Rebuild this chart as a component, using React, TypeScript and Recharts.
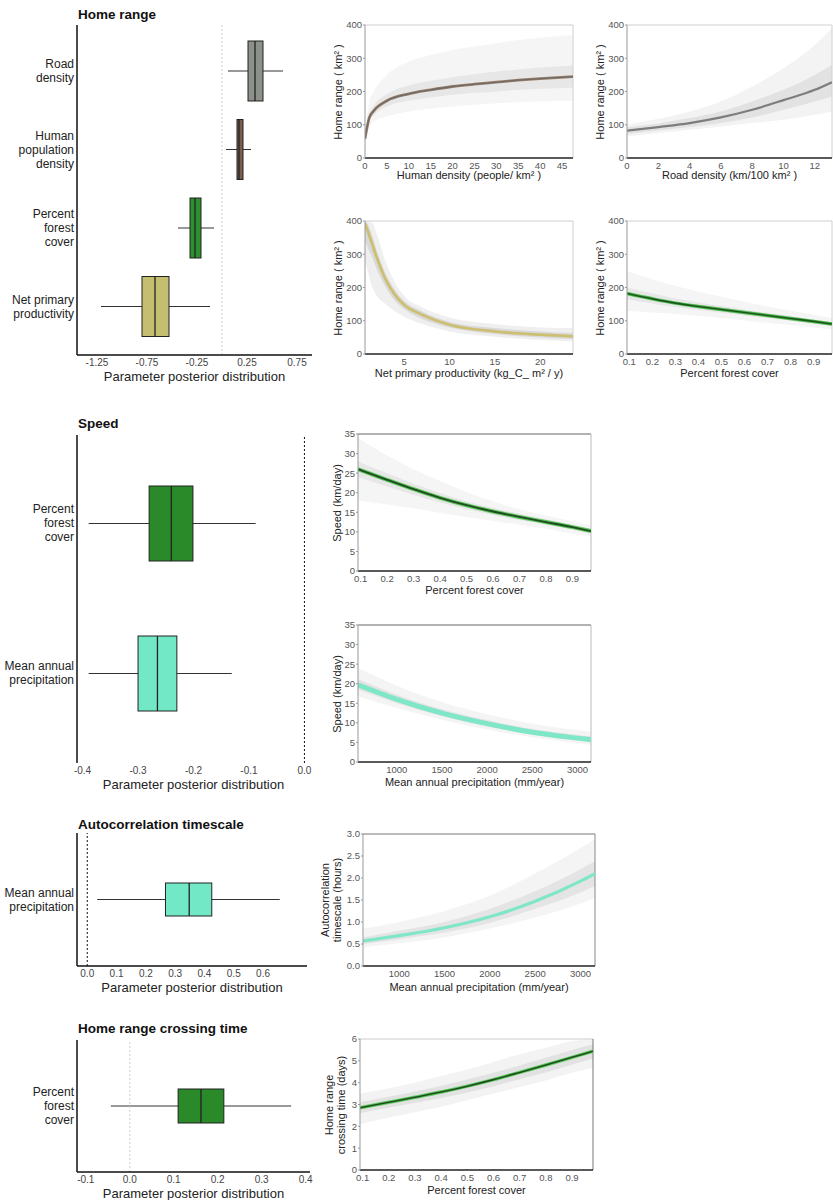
import React from 'react'
import { Area, Bar, BarChart, ComposedChart, Line, ReferenceLine, XAxis, YAxis } from 'recharts'

const FONT = '"Liberation Sans", Arial, Helvetica, sans-serif'

// ---------- parameter posteriors (box plots) ----------
const hrCats = ['Road\ndensity', 'Human\npopulation\ndensity', 'Percent\nforest\ncover', 'Net primary\nproductivity']
const hrLow = [0.06, 0.04, -0.44, -1.21]
const hrQ1 = [0.26, 0.15, -0.32, -0.8]
const hrMed = [0.33, 0.17, -0.27, -0.67]
const hrQ3 = [0.41, 0.21, -0.21, -0.53]
const hrHigh = [0.61, 0.29, -0.08, -0.12]
const hrFill = ['#8c918a', '#7a5f4e', '#2e8f2e', '#c5bd70']
const hrTicks = [-1.25, -0.75, -0.25, 0.25, 0.75]

const spCats = ['Percent\nforest\ncover', 'Mean annual\nprecipitation']
const spLow = [-0.389, -0.389]
const spQ1 = [-0.28, -0.3]
const spMed = [-0.24, -0.265]
const spQ3 = [-0.201, -0.23]
const spHigh = [-0.088, -0.131]
const spFill = ['#2a8a2a', '#72e8c6']
const spTicks = [-0.4, -0.3, -0.2, -0.1, 0]

const acCats = ['Mean annual\nprecipitation']
const acLow = [0.034]
const acQ1 = [0.267]
const acMed = [0.348]
const acQ3 = [0.425]
const acHigh = [0.657]
const acFill = ['#72e8c6']
const acTicks = [0, 0.1, 0.2, 0.3, 0.4, 0.5, 0.6]

const ctCats = ['Percent\nforest\ncover']
const ctLow = [-0.043]
const ctQ1 = [0.11]
const ctMed = [0.162]
const ctQ3 = [0.214]
const ctHigh = [0.367]
const ctFill = ['#2a8a2a']
const ctTicks = [-0.1, 0, 0.1, 0.2, 0.3, 0.4]

// ---------- fitted curves: mean + spread of posterior draws ----------
const humanX = [0, 1, 2, 5, 10, 15, 20, 25, 30, 35, 40, 47.5]
const humanMean = [58, 122, 142, 172, 193, 205, 215, 222, 228, 234, 239, 245]
const humanLo = [40, 95, 110, 125, 140, 148, 155, 160, 165, 168, 170, 172]
const humanHi = [80, 170, 200, 250, 290, 310, 325, 335, 345, 355, 362, 370]
const humanLo2 = [50, 110, 128, 155, 172, 182, 190, 196, 200, 205, 208, 212]
const humanHi2 = [65, 135, 158, 192, 218, 232, 243, 252, 260, 266, 272, 278]

const roadX = [0, 2, 4, 6, 8, 10, 12, 13.1]
const roadMean = [82, 93, 105, 122, 145, 174, 205, 228]
const roadLo = [65, 75, 85, 95, 105, 115, 130, 140]
const roadHi = [100, 118, 140, 170, 215, 270, 340, 390]
const roadLo2 = [72, 83, 93, 105, 122, 145, 170, 185]
const roadHi2 = [92, 104, 120, 140, 170, 205, 250, 280]

const nppX = [0.7, 1, 1.5, 2, 3, 4, 5, 7, 10, 15, 20, 23.6]
const nppMean = [393, 370, 330, 290, 222, 178, 148, 118, 88, 68, 58, 53]
const nppLo = [280, 250, 200, 175, 150, 128, 112, 90, 68, 52, 42, 38]
const nppHi = [400, 400, 395, 360, 275, 215, 175, 140, 110, 90, 80, 78]
const nppLo2 = [340, 320, 290, 255, 200, 160, 135, 105, 80, 60, 50, 45]
const nppHi2 = [400, 390, 355, 310, 240, 192, 160, 128, 97, 78, 68, 63]

const forestX = [0.09, 0.2, 0.3, 0.4, 0.5, 0.6, 0.7, 0.8, 0.9, 0.98]
const hrForestMean = [182, 166, 153, 143, 134, 125, 116, 107, 98, 90]
const hrForestLo = [130, 125, 120, 115, 108, 101, 94, 87, 80, 74]
const hrForestHi = [250, 225, 205, 188, 172, 157, 143, 130, 118, 108]
const hrForestLo2 = [165, 152, 141, 132, 124, 116, 108, 100, 92, 84]
const hrForestHi2 = [200, 182, 167, 155, 144, 134, 124, 114, 104, 96]

const spForestX = [0.09, 0.2, 0.3, 0.4, 0.5, 0.6, 0.7, 0.8, 0.9, 0.97]
const spForestMean = [26.0, 23.3, 20.9, 18.7, 16.8, 15.2, 13.8, 12.5, 11.2, 10.2]
const spForestLo = [18, 17, 16, 14.8, 13.8, 12.8, 11.8, 10.8, 9.6, 8.8]
const spForestHi = [34, 29.5, 26, 23, 20.2, 17.8, 15.8, 14.2, 12.7, 11.7]
const spForestLo2 = [24, 21.6, 19.5, 17.5, 15.8, 14.3, 13.0, 11.8, 10.6, 9.6]
const spForestHi2 = [28, 25, 22.3, 19.9, 17.8, 16.1, 14.6, 13.2, 11.8, 10.8]

const spPrecipX = [570, 1000, 1500, 2000, 2500, 3000, 3150]
const spPrecipMean = [19.7, 16.0, 12.5, 9.8, 7.6, 6.1, 5.7]
const spPrecipLo = [16.8, 13.8, 10.8, 8.3, 6.3, 4.8, 4.4]
const spPrecipHi = [24.0, 19.5, 15.3, 12.2, 9.8, 8.2, 7.8]
const spPrecipLo2 = [18.5, 15.0, 11.7, 9.1, 7.0, 5.5, 5.1]
const spPrecipHi2 = [21.2, 17.2, 13.5, 10.7, 8.4, 6.9, 6.5]

const acX = [600, 1000, 1500, 2000, 2500, 3000, 3160]
const acMean = [0.57, 0.69, 0.87, 1.12, 1.47, 1.93, 2.1]
const acLo = [0.42, 0.52, 0.65, 0.85, 1.1, 1.42, 1.55]
const acHi = [0.85, 1.0, 1.25, 1.6, 2.1, 2.68, 2.88]
const acLo2 = [0.5, 0.61, 0.76, 0.98, 1.3, 1.67, 1.82]
const acHi2 = [0.65, 0.8, 1.0, 1.3, 1.7, 2.2, 2.38]

const ctX = [0.09, 0.2, 0.3, 0.4, 0.5, 0.6, 0.7, 0.8, 0.9, 0.98]
const ctMean = [2.85, 3.1, 3.33, 3.57, 3.84, 4.14, 4.47, 4.81, 5.16, 5.44]
const ctLo = [2.1, 2.4, 2.65, 2.9, 3.2, 3.5, 3.8, 4.1, 4.45, 4.7]
const ctHi = [3.5, 3.75, 4.0, 4.3, 4.6, 4.95, 5.3, 5.6, 5.9, 6.0]
const ctLo2 = [2.6, 2.86, 3.08, 3.3, 3.55, 3.84, 4.16, 4.48, 4.83, 5.12]
const ctHi2 = [3.1, 3.36, 3.6, 3.85, 4.14, 4.45, 4.79, 5.14, 5.5, 5.76]

const f1 = (v: number) => v.toFixed(1)

const boxRows = (cats: string[], low: number[], q1: number[], med: number[], q3: number[], high: number[], fill: string[]) =>
  cats.map((name, i) => ({ name, low: low[i], q1: q1[i], med: med[i], q3: q3[i], high: high[i], fill: fill[i] }))

const curveRows = (xs: number[], mean: number[], lo: number[], hi: number[], lo2: number[], hi2: number[]) =>
  xs.map((x, i) => ({ x, mean: mean[i], band: [lo[i], hi[i]], core: [lo2[i], hi2[i]] }))

function BoxShape(props: any) {
  const { x, y, width, height, payload } = props
  const span = payload.high - payload.low
  const px = (v: number) => x + (width * (v - payload.low)) / span
  const cy = y + height / 2
  return (
    <g>
      <line x1={x} x2={x + width} y1={cy} y2={cy} stroke="#333" strokeWidth={1} />
      <rect x={px(payload.q1)} y={y} width={px(payload.q3) - px(payload.q1)} height={height} fill={payload.fill} stroke="#222" strokeWidth={1} />
      <line x1={px(payload.med)} x2={px(payload.med)} y1={y} y2={y + height} stroke="#222" strokeWidth={1.3} />
    </g>
  )
}

function CatTick({ x, y, payload }: any) {
  const lines = String(payload.value).split('\n')
  return (
    <text x={x} y={y} textAnchor="end" fontSize={12} fill="#222" fontFamily={FONT}>
      {lines.map((ln, i) => (
        <tspan key={i} x={x} dy={i === 0 ? -(lines.length - 1) * 7 + 4 : 14}>{ln}</tspan>
      ))}
    </text>
  )
}

function Title({ text, y }: { text: string; y: number }) {
  return (
    <div style={{ position: 'absolute', left: 78, top: y - 9, fontSize: 13.5, fontWeight: 'bold', color: '#111', lineHeight: '18px', whiteSpace: 'nowrap' }}>
      {text}
    </div>
  )
}

function XTitle({ text, x, y, size = 11 }: { text: string; x: number; y: number; size?: number }) {
  return (
    <div style={{ position: 'absolute', left: x, top: y, transform: 'translate(-50%, -50%)', fontSize: size, color: '#222', whiteSpace: 'nowrap', lineHeight: '14px' }}>
      {text}
    </div>
  )
}

function YTitle({ lines, x, y }: { lines: string[]; x: number; y: number }) {
  return (
    <div style={{ position: 'absolute', left: x, top: y, transform: 'translate(-50%, -50%) rotate(-90deg)', fontSize: 11, color: '#222', whiteSpace: 'nowrap', lineHeight: '12px', textAlign: 'center' }}>
      {lines.map((l, i) => <div key={i}>{l}</div>)}
    </div>
  )
}

interface BoxProps {
  title: string
  titleY: number
  t: number
  b: number
  r: number
  data: any[]
  domain: [number, number]
  ticks: number[]
  fmt?: (v: number) => string
  barSize: number
  pad: { top: number; bottom: number }
  zeroColor: string
  axisLine: boolean
}

function BoxPanel(p: BoxProps) {
  const lw = 77
  const topPad = 4
  const xh = 30
  const rightPad = 6
  return (
    <>
      <Title text={p.title} y={p.titleY} />
      <div style={{ position: 'absolute', left: 0, top: p.t - topPad }}>
        <BarChart layout="vertical" width={p.r + rightPad} height={topPad + (p.b - p.t) + xh} data={p.data}
          margin={{ top: topPad, right: rightPad, left: 0, bottom: 0 }} barSize={p.barSize}>
          <XAxis type="number" domain={p.domain} ticks={p.ticks} allowDataOverflow interval={0} tickFormatter={p.fmt}
            axisLine={p.axisLine ? { stroke: '#111', strokeWidth: 1.5 } : false} tickLine={false} tickSize={2} tickMargin={2} height={xh}
            tick={{ fontSize: 10, fill: '#444', fontFamily: FONT }} />
          <YAxis type="category" dataKey="name" width={lw} axisLine={{ stroke: '#111', strokeWidth: 1.5 }} tickLine={false}
            tickSize={0} tickMargin={3} padding={p.pad} interval={0} tick={(props: any) => <CatTick {...props} />} />
          <ReferenceLine x={0} stroke={p.zeroColor} strokeDasharray="2 2" />
          <Bar dataKey={(d: any) => [d.low, d.high]} shape={(props: any) => <BoxShape {...props} />} isAnimationActive={false} />
        </BarChart>
      </div>
      <XTitle text="Parameter posterior distribution" x={(77 + p.r) / 2} y={p.b + 22} size={13} />
    </>
  )
}

interface CurveProps {
  l: number
  t: number
  r: number
  b: number
  data: any[]
  xDomain: [number, number]
  xTicks: number[]
  xFmt?: (v: number) => string
  yDomain: [number, number]
  yTicks: number[]
  yFmt?: (v: number) => string
  xLabel: string
  xLabelDy: number
  yLabel: string[]
  yLabelX: number
  strokes: { color: string; width: number }[]
  frameTop: string
  frameRight: string
  shade: number
}

function CurvePanel(p: CurveProps) {
  const yw = 52
  const topPad = 6
  const xh = 30
  const rightPad = p.r >= 830 ? 1 : 3
  return (
    <>
      <div style={{ position: 'absolute', left: p.l - yw, top: p.t - topPad }}>
        <ComposedChart width={yw + (p.r - p.l) + rightPad} height={topPad + (p.b - p.t) + xh} data={p.data}
          margin={{ top: topPad, right: rightPad, left: 0, bottom: 0 }}>
          <XAxis type="number" dataKey="x" domain={p.xDomain} ticks={p.xTicks} allowDataOverflow interval={0} tickFormatter={p.xFmt}
            axisLine={{ stroke: '#222', strokeWidth: 1.5 }} tickLine={false} tickSize={3} tickMargin={1} height={xh}
            tick={{ fontSize: 9.5, fill: '#555', fontFamily: FONT }} />
          <YAxis type="number" domain={p.yDomain} ticks={p.yTicks} allowDataOverflow interval={0} tickFormatter={p.yFmt} width={yw}
            axisLine={{ stroke: '#999' }} tickLine={{ stroke: '#999' }} tickSize={2} tickMargin={1}
            tick={{ fontSize: 9.5, fill: '#555', fontFamily: FONT }} />
          <ReferenceLine y={p.yDomain[1]} stroke={p.frameTop} />
          <ReferenceLine x={p.xDomain[1]} stroke={p.frameRight} />
          <Area dataKey="band" type="monotone" stroke="none" fill="#c8c8c8" fillOpacity={0.22 * p.shade} isAnimationActive={false} />
          <Area dataKey="core" type="monotone" stroke="none" fill="#aaaaaa" fillOpacity={0.24 * p.shade} isAnimationActive={false} />
          {p.strokes.map((s, i) => (
            <Line key={i} dataKey="mean" type="monotone" stroke={s.color} strokeWidth={s.width} dot={false} isAnimationActive={false} />
          ))}
        </ComposedChart>
      </div>
      <XTitle text={p.xLabel} x={(p.l + p.r) / 2} y={p.b + p.xLabelDy} />
      <YTitle lines={p.yLabel} x={p.yLabelX} y={(p.t + p.b) / 2} />
    </>
  )
}

const hrYTicks = [0, 100, 200, 300, 400]
const forestTicks = [0.1, 0.2, 0.3, 0.4, 0.5, 0.6, 0.7, 0.8, 0.9]
const speedYTicks = [0, 5, 10, 15, 20, 25, 30, 35]
const precipTicks = [1000, 1500, 2000, 2500, 3000]

export default function App() {
  return (
    <div style={{ position: 'absolute', left: 0, top: 0, width: 833, height: 1200, background: '#fff', overflow: 'hidden', fontFamily: FONT }}>
      {/* Home range */}
      <BoxPanel title="Home range" titleY={15} t={25} b={355} r={312}
        data={boxRows(hrCats, hrLow, hrQ1, hrMed, hrQ3, hrHigh, hrFill)}
        domain={[-1.45, 0.9]} ticks={hrTicks} barSize={60} pad={{ top: 7, bottom: 9 }} zeroColor="#cfcfcf" axisLine />
      <CurvePanel l={365} t={25} r={573} b={158} data={curveRows(humanX, humanMean, humanLo, humanHi, humanLo2, humanHi2)}
        xDomain={[0, 47.5]} xTicks={[0, 5, 10, 15, 20, 25, 30, 35, 40, 45]} yDomain={[0, 400]} yTicks={hrYTicks}
        xLabel="Human density (people/ km² )" xLabelDy={17} yLabel={['Home range ( km² )']} yLabelX={338} shade={0.8}
        strokes={[{ color: '#9a806c', width: 2.8 }, { color: '#6f6a66', width: 1.3 }]} frameTop="#d0d0d0" frameRight="#d0d0d0" />
      <CurvePanel l={627} t={25} r={832} b={158} data={curveRows(roadX, roadMean, roadLo, roadHi, roadLo2, roadHi2)}
        xDomain={[0, 13.1]} xTicks={[0, 2, 4, 6, 8, 10, 12]} yDomain={[0, 400]} yTicks={hrYTicks}
        xLabel="Road density (km/100 km² )" xLabelDy={17} yLabel={['Home range ( km² )']} yLabelX={600} shade={1}
        strokes={[{ color: '#7d7d7d', width: 2.2 }]} frameTop="#d0d0d0" frameRight="#d0d0d0" />
      <CurvePanel l={365} t={221} r={573} b={354} data={curveRows(nppX, nppMean, nppLo, nppHi, nppLo2, nppHi2)}
        xDomain={[0.7, 23.6]} xTicks={[5, 10, 15, 20]} yDomain={[0, 400]} yTicks={hrYTicks}
        xLabel="Net primary productivity (kg_C_ m² / y)" xLabelDy={19} yLabel={['Home range ( km² )']} yLabelX={338} shade={1.3}
        strokes={[{ color: '#cdbf72', width: 2.8 }]} frameTop="#d0d0d0" frameRight="#d0d0d0" />
      <CurvePanel l={627} t={221} r={832} b={354} data={curveRows(forestX, hrForestMean, hrForestLo, hrForestHi, hrForestLo2, hrForestHi2)}
        xDomain={[0.09, 0.98]} xTicks={forestTicks} xFmt={f1} yDomain={[0, 400]} yTicks={hrYTicks}
        xLabel="Percent forest cover" xLabelDy={19} yLabel={['Home range ( km² )']} yLabelX={600} shade={0.8}
        strokes={[{ color: '#4cbb4c', width: 3.5 }, { color: '#1d561d', width: 1.6 }]} frameTop="#d0d0d0" frameRight="#d0d0d0" />

      {/* Speed */}
      <BoxPanel title="Speed" titleY={424} t={435} b={763} r={310}
        data={boxRows(spCats, spLow, spQ1, spMed, spQ3, spHigh, spFill)}
        domain={[-0.41, 0.01]} ticks={spTicks} fmt={f1} barSize={75} pad={{ top: 13, bottom: 15 }} zeroColor="#111" axisLine={false} />
      <CurvePanel l={358} t={434} r={591} b={571} data={curveRows(spForestX, spForestMean, spForestLo, spForestHi, spForestLo2, spForestHi2)}
        xDomain={[0.09, 0.97]} xTicks={forestTicks} xFmt={f1} yDomain={[0, 35]} yTicks={speedYTicks}
        xLabel="Percent forest cover" xLabelDy={19} yLabel={['Speed (km/day)']} yLabelX={337} shade={0.8}
        strokes={[{ color: '#58c458', width: 4 }, { color: '#204a20', width: 1.8 }]} frameTop="#666" frameRight="#bbb" />
      <CurvePanel l={358} t={625} r={591} b={762} data={curveRows(spPrecipX, spPrecipMean, spPrecipLo, spPrecipHi, spPrecipLo2, spPrecipHi2)}
        xDomain={[570, 3150]} xTicks={precipTicks} yDomain={[0, 35]} yTicks={speedYTicks}
        xLabel="Mean annual precipitation (mm/year)" xLabelDy={20} yLabel={['Speed (km/day)']} yLabelX={337} shade={0.9}
        strokes={[{ color: '#7fe6c8', width: 5 }]} frameTop="#666" frameRight="#bbb" />

      {/* Autocorrelation timescale */}
      <BoxPanel title="Autocorrelation timescale" titleY={825} t={833} b={966} r={307}
        data={boxRows(acCats, acLow, acQ1, acMed, acQ3, acHigh, acFill)}
        domain={[-0.035, 0.75]} ticks={acTicks} fmt={f1} barSize={33} pad={{ top: 0, bottom: 0 }} zeroColor="#111" axisLine />
      <CurvePanel l={363} t={834} r={595} b={966} data={curveRows(acX, acMean, acLo, acHi, acLo2, acHi2)}
        xDomain={[600, 3160]} xTicks={precipTicks} yDomain={[0, 3]} yTicks={[0, 0.5, 1, 1.5, 2, 2.5, 3]} yFmt={f1}
        xLabel="Mean annual precipitation (mm/year)" xLabelDy={21} yLabel={['Autocorrelation', 'timescale (hours)']} yLabelX={331} shade={0.9}
        strokes={[{ color: '#7fe6c8', width: 3.2 }]} frameTop="#777" frameRight="#888" />

      {/* Home range crossing time */}
      <BoxPanel title="Home range crossing time" titleY={1029} t={1040} b={1172} r={310}
        data={boxRows(ctCats, ctLow, ctQ1, ctMed, ctQ3, ctHigh, ctFill)}
        domain={[-0.12, 0.41]} ticks={ctTicks} fmt={f1} barSize={34} pad={{ top: 0, bottom: 0 }} zeroColor="#cfcfcf" axisLine />
      <CurvePanel l={360} t={1039} r={593} b={1170} data={curveRows(ctX, ctMean, ctLo, ctHi, ctLo2, ctHi2)}
        xDomain={[0.09, 0.98]} xTicks={forestTicks} xFmt={f1} yDomain={[0, 6]} yTicks={[0, 1, 2, 3, 4, 5, 6]}
        xLabel="Percent forest cover" xLabelDy={20} yLabel={['Home range', 'crossing time (days)']} yLabelX={335} shade={1}
        strokes={[{ color: '#5acb5a', width: 3.5 }, { color: '#1f4d1f', width: 1.6 }]} frameTop="#ccc" frameRight="#777" />
    </div>
  )
}
